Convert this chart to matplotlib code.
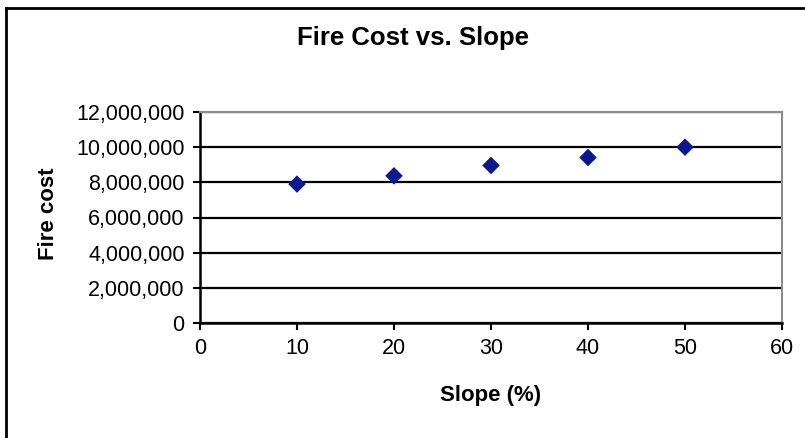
import matplotlib
matplotlib.use("Agg")
import matplotlib.pyplot as plt
from matplotlib.lines import Line2D
from matplotlib.ticker import FuncFormatter, MultipleLocator

plt.rcParams['font.family'] = ['Liberation Sans', 'DejaVu Sans']

# Fire cost by slope
slope_pct = [10, 20, 30, 40, 50]
fire_cost = [7_900_000, 8_370_000, 8_960_000, 9_410_000, 10_000_000]

fig = plt.figure(figsize=(8.05, 4.38), dpi=100)
ax = fig.add_axes([200/805, 1 - 323/438, 582/805, 211/438])

ax.scatter(slope_pct, fire_cost, marker='D', s=80, color='#0a1a8c', zorder=3,
           edgecolors='none')

ax.set_xlim(0, 60)
ax.set_ylim(0, 12_000_000)
ax.xaxis.set_major_locator(MultipleLocator(10))
ax.yaxis.set_major_locator(MultipleLocator(2_000_000))
ax.yaxis.set_major_formatter(FuncFormatter(lambda v, p: f"{int(v):,}"))

ax.grid(axis='y', color='black', linewidth=1.6)
ax.set_axisbelow(True)

for side in ('left', 'bottom'):
    ax.spines[side].set_color('black')
    ax.spines[side].set_linewidth(1.8)
for side in ('top', 'right'):
    ax.spines[side].set_color('#8c8c8c')
    ax.spines[side].set_linewidth(1.5)

ax.tick_params(direction='out', length=5, width=1.5, labelsize=15.5, pad=6,
               colors='black')

fig.text(491/805, 1 - 396/438, 'Slope (%)', fontsize=16, fontweight='bold',
         ha='center', va='center')
fig.text(48/805, 1 - 214/438, 'Fire cost', fontsize=16, fontweight='bold',
         ha='center', va='center', rotation=90)
fig.text(413/805, 1 - 38/438, 'Fire Cost vs. Slope', fontsize=18.5,
         fontweight='bold', ha='center', va='center')

# chart frame
fig.add_artist(Line2D([6/805, 1], [1 - 8/438, 1 - 8/438], color='black',
                      linewidth=2, transform=fig.transFigure))
fig.add_artist(Line2D([6/805, 6/805], [0, 1 - 8/438], color='black',
                      linewidth=2, transform=fig.transFigure))

fig.savefig('out.png', dpi=100)
